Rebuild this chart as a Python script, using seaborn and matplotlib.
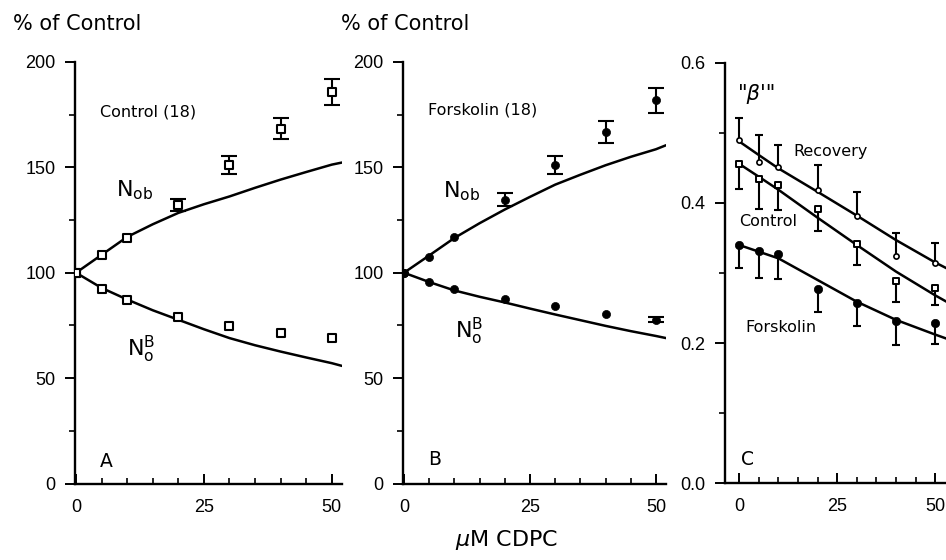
import numpy as np
import pandas as pd
import matplotlib
matplotlib.use("Agg")
import matplotlib.pyplot as plt
from matplotlib.ticker import MultipleLocator, FormatStrFormatter
import seaborn as sns

# ---------------- data ----------------
x_pts = [0, 5, 10, 20, 30, 40, 50]
x_fit = [0, 5, 10, 15, 20, 25, 30, 35, 40, 45, 50, 52]

# Panel A (control)
a_nob = [100, 108.6, 116.6, 132.0, 151.0, 168.4, 185.7]
a_nob_err = [0, 0, 0, 2.9, 4.2, 5.0, 6.0]
a_no = [100, 92.4, 87.2, 79.2, 74.8, 71.6, 69.0]
a_fit_nob = [100, 108.5, 117.0, 123.0, 128.4, 132.5, 136.2, 140.3, 144.2, 147.8, 151.3, 152.3]
a_fit_no = [100, 92.8, 87.3, 82.2, 77.7, 73.2, 69.0, 65.6, 62.6, 59.8, 57.1, 55.8]

# Panel B (forskolin)
b_nob = [100, 107.7, 116.8, 134.7, 151.0, 166.8, 181.8]
b_nob_err = [0, 0, 0, 3.2, 4.2, 5.0, 5.9]
b_no = [100, 95.4, 92.2, 87.6, 84.0, 80.4, 77.7]
b_no_err = [0, 0, 0, 0, 0, 0, 1.3]
b_fit_nob = [100, 108.2, 116.5, 123.5, 130.0, 136.0, 141.8, 146.5, 151.0, 155.0, 158.6, 160.5]
b_fit_no = [100, 95.6, 91.6, 88.6, 85.9, 83.0, 80.2, 77.5, 74.8, 72.3, 70.0, 69.0]

# Panel C ("beta'")
c_rec = [0.490, 0.458, 0.452, 0.419, 0.381, 0.324, 0.315]
c_rec_err_up = [0.032, 0.039, 0.031, 0.035, 0.035, 0.033, 0.028]
c_ctl = [0.456, 0.434, 0.426, 0.392, 0.341, 0.288, 0.278]
c_ctl_err_dn = [0.036, 0.043, 0.036, 0.032, 0.030, 0.029, 0.024]
c_fsk = [0.340, 0.331, 0.327, 0.277, 0.257, 0.231, 0.229]
c_fsk_err_dn = [0.033, 0.038, 0.036, 0.032, 0.033, 0.034, 0.031]
xc_fit = [0, 5, 10, 20, 30, 40, 50, 53.5]
c_fit_rec = [0.488, 0.4686, 0.4495, 0.416, 0.382, 0.347, 0.315, 0.305]
c_fit_ctl = [0.456, 0.4376, 0.419, 0.379, 0.340, 0.302, 0.268, 0.257]
c_fit_fsk = [0.340, 0.3305, 0.321, 0.290, 0.259, 0.233, 0.212, 0.205]

# ---------------- style ----------------
sns.set_style("ticks")
plt.rcParams["font.family"] = ["Liberation Sans", "DejaVu Sans"]
plt.rcParams["mathtext.fontset"] = "dejavusans"
plt.rcParams["text.color"] = "black"
plt.rcParams["axes.labelcolor"] = "black"
plt.rcParams["xtick.color"] = "black"
plt.rcParams["ytick.color"] = "black"
TXT = ["DejaVu Sans"]

W, H = 946, 560
fig = plt.figure(figsize=(W / 100, H / 100), dpi=100)
fig.patch.set_facecolor("white")

axA = fig.add_axes([75 / W, 76.5 / H, 267 / W, 421.5 / H])
axB = fig.add_axes([403 / W, 76.5 / H, 263 / W, 421.5 / H])
axC = fig.add_axes([725 / W, 77 / H, 224 / W, 420 / H])


def style(ax):
    for s in ["top", "right"]:
        ax.spines[s].set_visible(False)
    for s in ["left", "bottom"]:
        ax.spines[s].set_linewidth(1.7)
        ax.spines[s].set_color("black")
    ax.set_facecolor("white")
    ax.tick_params(axis="x", which="major", direction="in", length=7, width=1.4,
                   pad=11, labelsize=13, colors="black")
    ax.tick_params(axis="x", which="minor", direction="in", length=4, width=1.2)
    ax.tick_params(axis="y", which="major", direction="out", length=7, width=1.4,
                   pad=7, labelsize=13, colors="black")
    ax.tick_params(axis="y", which="minor", direction="out", length=4, width=1.2)
    ax.set_xlabel("")
    ax.set_ylabel("")
    ax.xaxis.set_major_locator(MultipleLocator(25))
    ax.xaxis.set_minor_locator(MultipleLocator(5))


LW = 1.8
ELW = 1.5
CAP = 5.5


def sym_err(ax, x, y, err):
    x = np.asarray(x, float); y = np.asarray(y, float); e = np.asarray(err, float)
    m = e > 0
    ax.errorbar(x[m], y[m], yerr=e[m], fmt="none", ecolor="black", elinewidth=ELW,
                capsize=CAP, capthick=ELW, zorder=2)


def one_err(ax, x, y, err, up):
    x = np.asarray(x, float); y = np.asarray(y, float); e = np.asarray(err, float)
    tip = y + e if up else y - e
    ax.vlines(x, y, tip, color="black", lw=ELW, zorder=2)
    ax.plot(x, tip, ls="none", marker="_", ms=CAP * 1.1, mew=ELW, color="black", zorder=2)


# ---- Panel A ----
sns.lineplot(x=x_fit, y=a_fit_nob, color="black", lw=LW, ax=axA, zorder=1)
sns.lineplot(x=x_fit, y=a_fit_no, color="black", lw=LW, ax=axA, zorder=1)
sym_err(axA, x_pts, a_nob, a_nob_err)
sns.scatterplot(x=x_pts, y=a_nob, marker="s", s=26, color="black", facecolor="white",
                edgecolor="black", linewidth=1.5, ax=axA, zorder=3)
sns.scatterplot(x=x_pts, y=a_no, marker="s", s=26, color="black", facecolor="white",
                edgecolor="black", linewidth=1.5, ax=axA, zorder=3)
axA.set_xlim(-0.2, 52)
axA.set_ylim(0, 200)
axA.yaxis.set_major_locator(MultipleLocator(50))
axA.yaxis.set_minor_locator(MultipleLocator(25))
style(axA)
axA.text(4.7, 176.5, "Control (18)", fontsize=11.5, family=TXT, va="center", ha="left")
axA.text(7.9, 136.0, r"$\mathrm{N_{ob}}$", fontsize=16, va="baseline", ha="left")
axA.text(9.9, 60.2, r"$\mathrm{N_o^B}$", fontsize=16, va="baseline", ha="left")
axA.text(4.7, 8.0, "A", fontsize=13.5, family=TXT, va="baseline", ha="left")

# ---- Panel B ----
sns.lineplot(x=x_fit, y=b_fit_nob, color="black", lw=LW, ax=axB, zorder=1)
sns.lineplot(x=x_fit, y=b_fit_no, color="black", lw=LW, ax=axB, zorder=1)
sym_err(axB, x_pts, b_nob, b_nob_err)
sym_err(axB, x_pts, b_no, b_no_err)
sns.scatterplot(x=x_pts, y=b_nob, marker="o", s=34, color="black", edgecolor="black",
                linewidth=0.5, ax=axB, zorder=3)
sns.scatterplot(x=x_pts, y=b_no, marker="o", s=34, color="black", edgecolor="black",
                linewidth=0.5, ax=axB, zorder=3)
axB.set_xlim(-0.2, 52)
axB.set_ylim(0, 200)
axB.yaxis.set_major_locator(MultipleLocator(50))
axB.yaxis.set_minor_locator(MultipleLocator(25))
style(axB)
axB.text(4.8, 177.4, "Forskolin (18)", fontsize=11.5, family=TXT, va="center", ha="left")
axB.text(7.8, 135.8, r"$\mathrm{N_{ob}}$", fontsize=16, va="baseline", ha="left")
axB.text(10.1, 69.0, r"$\mathrm{N_o^B}$", fontsize=16, va="baseline", ha="left")
axB.text(4.8, 8.8, "B", fontsize=13.5, family=TXT, va="baseline", ha="left")

# ---- Panel C ----
for yy in (c_fit_rec, c_fit_ctl, c_fit_fsk):
    sns.lineplot(x=xc_fit, y=yy, color="black", lw=LW, ax=axC, zorder=1)
one_err(axC, x_pts, c_rec, c_rec_err_up, up=True)
one_err(axC, x_pts, c_ctl, c_ctl_err_dn, up=False)
one_err(axC, x_pts, c_fsk, c_fsk_err_dn, up=False)
sns.scatterplot(x=x_pts, y=c_rec, marker="o", s=14, color="black", facecolor="white",
                edgecolor="black", linewidth=1.2, ax=axC, zorder=3)
sns.scatterplot(x=x_pts, y=c_ctl, marker="s", s=24, color="black", facecolor="white",
                edgecolor="black", linewidth=1.4, ax=axC, zorder=3)
sns.scatterplot(x=x_pts, y=c_fsk, marker="o", s=36, color="black", edgecolor="black",
                linewidth=0.5, ax=axC, zorder=3)
axC.set_xlim(-3.6, 53.5)
axC.set_ylim(0, 0.6)
axC.yaxis.set_major_locator(MultipleLocator(0.2))
axC.yaxis.set_minor_locator(MultipleLocator(0.1))
axC.yaxis.set_major_formatter(FormatStrFormatter("%.1f"))
style(axC)
axC.text(-0.2, 0.547, "\"\u03b2'\"", fontsize=15, family=TXT, style="italic",
         va="baseline", ha="left")
axC.text(13.9, 0.4676, "Recovery", fontsize=11.5, family=TXT, va="baseline", ha="left")
axC.text(0.0, 0.367, "Control", fontsize=11.5, family=TXT, va="baseline", ha="left")
axC.text(1.7, 0.216, "Forskolin", fontsize=11.5, family=TXT, va="baseline", ha="left")
axC.text(0.5, 0.0257, "C", fontsize=13.5, family=TXT, va="baseline", ha="left")

for ax in (axA, axB, axC):
    leg = ax.get_legend()
    if leg is not None:
        leg.remove()

# ---- figure-level labels ----
fig.text(12.7 / W, 1 - 30 / H, "% of Control", fontsize=15, family=TXT, va="baseline")
fig.text(341 / W, 1 - 30 / H, "% of Control", fontsize=15, family=TXT, va="baseline")
fig.text(455 / W, 1 - 545.7 / H, r"$\mu$M CDPC", fontsize=16, family=TXT, va="baseline")

fig.savefig("out.png", dpi=100, facecolor="white")
